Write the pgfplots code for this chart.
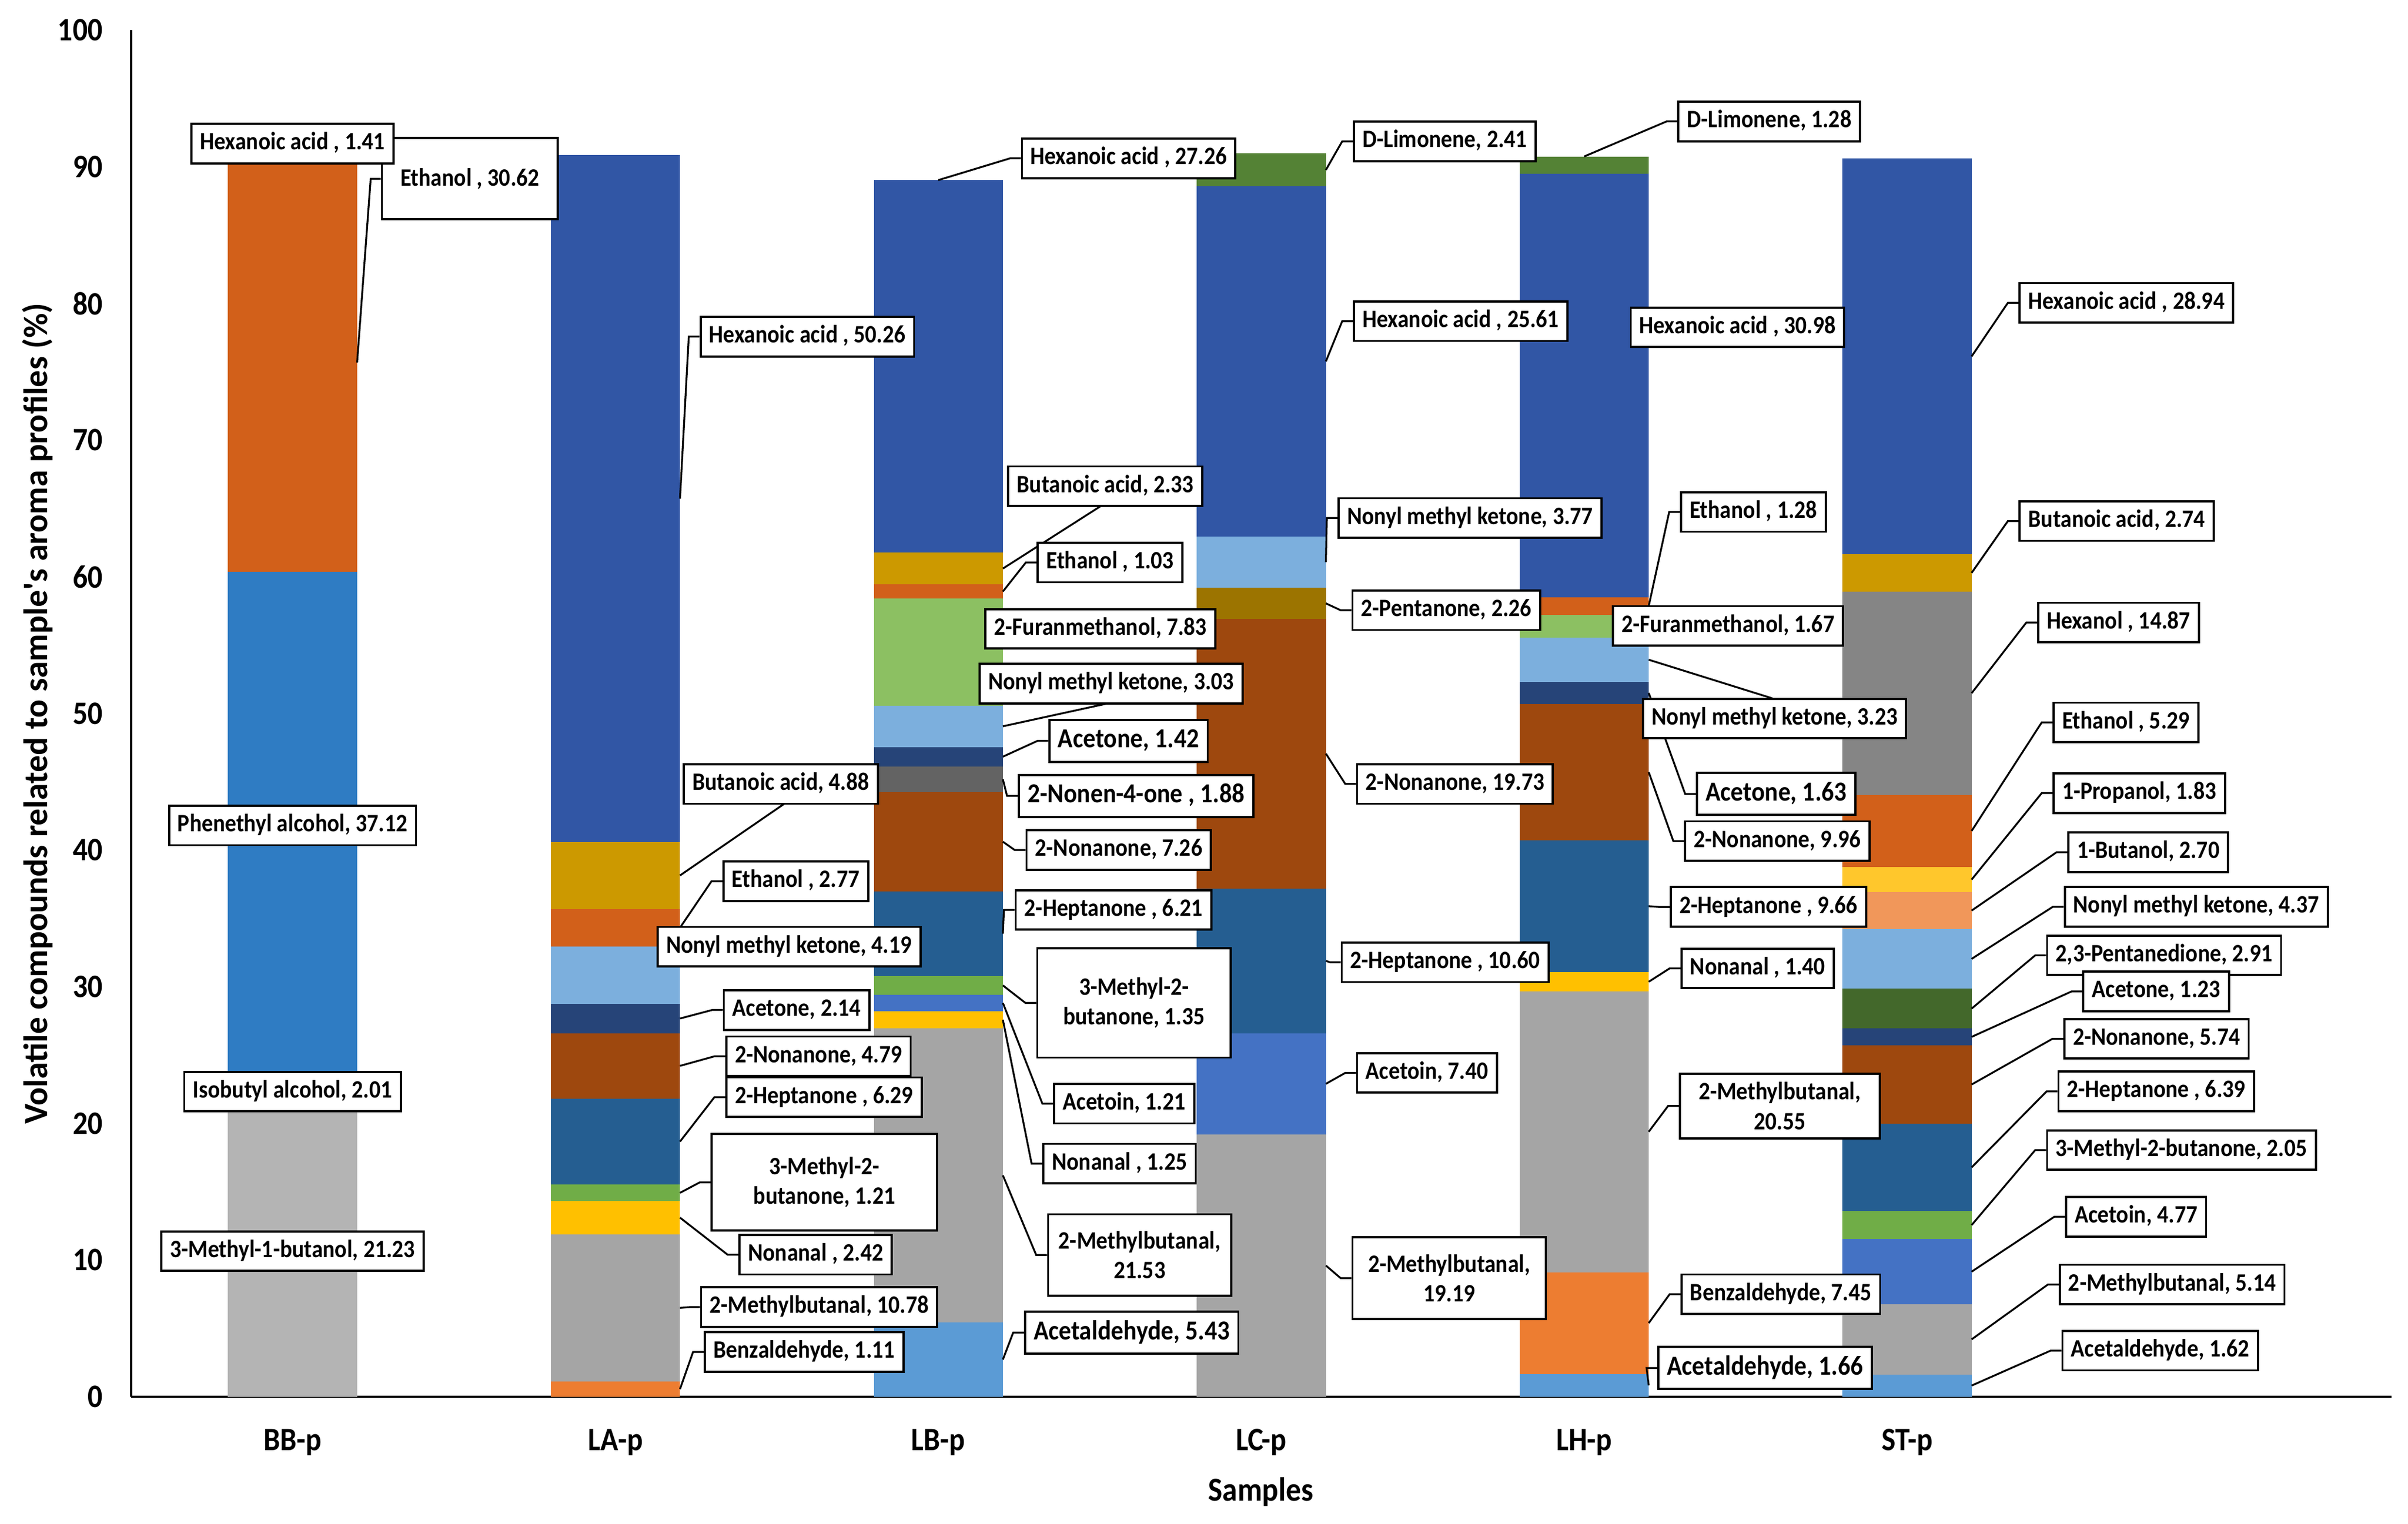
\documentclass[border=0pt]{standalone}
\usepackage{fontspec}
\setmainfont{Carlito}[FakeStretch=0.9]
\newfontfamily\ylfont{Carlito}
\usepackage{pgfplots}
\pgfplotsset{compat=1.18}
\definecolor{cGrayL}{HTML}{B4B4B4}
\definecolor{cIso}{HTML}{A9A9A9}
\definecolor{cPhen}{HTML}{2F7CC3}
\definecolor{cEth}{HTML}{D2601A}
\definecolor{cHex}{HTML}{3156A5}
\definecolor{cBenz}{HTML}{ED7D31}
\definecolor{cMB}{HTML}{A5A5A5}
\definecolor{cNonal}{HTML}{FFC000}
\definecolor{cMtb}{HTML}{70AD47}
\definecolor{cHep}{HTML}{255E91}
\definecolor{cNon}{HTML}{9E480E}
\definecolor{cAct}{HTML}{264478}
\definecolor{cNmk}{HTML}{7CAFDD}
\definecolor{cBut}{HTML}{CC9900}
\definecolor{cAld}{HTML}{5B9BD5}
\definecolor{cAcn}{HTML}{4472C4}
\definecolor{cNen}{HTML}{636363}
\definecolor{cFur}{HTML}{8CC062}
\definecolor{cPen}{HTML}{9C7400}
\definecolor{cLim}{HTML}{548235}
\definecolor{cHxl}{HTML}{858585}
\definecolor{cBol}{HTML}{F1975A}
\definecolor{cPol}{HTML}{FFC72C}
\definecolor{cPdn}{HTML}{43682B}
% one stacked segment per compound and sample
\newcommand\sA[2]{\addplot[fill=#1,draw=none] coordinates {(0,#2)(1,0)(2,0)(3,0)(4,0)(5,0)};}
\newcommand\sB[2]{\addplot[fill=#1,draw=none] coordinates {(0,0)(1,#2)(2,0)(3,0)(4,0)(5,0)};}
\newcommand\sC[2]{\addplot[fill=#1,draw=none] coordinates {(0,0)(1,0)(2,#2)(3,0)(4,0)(5,0)};}
\newcommand\sD[2]{\addplot[fill=#1,draw=none] coordinates {(0,0)(1,0)(2,0)(3,#2)(4,0)(5,0)};}
\newcommand\sE[2]{\addplot[fill=#1,draw=none] coordinates {(0,0)(1,0)(2,0)(3,0)(4,#2)(5,0)};}
\newcommand\sF[2]{\addplot[fill=#1,draw=none] coordinates {(0,0)(1,0)(2,0)(3,0)(4,0)(5,#2)};}
\tikzset{
 lblbase/.style={draw=black, line width=0.7pt, fill=white, anchor=west, inner xsep=2.8pt, inner ysep=2.8pt, align=center, font=\bfseries\fontsize{8.1}{9.6}\selectfont},
 lbl/.style={lblbase, text height=5.6pt, text depth=1.6pt},
 lbl2/.style={lblbase},
 big/.style={font=\bfseries\fontsize{8.9}{10.4}\selectfont, text height=6.2pt, text depth=1.8pt},
 lead/.style={draw=black, line width=0.6pt},
}
% callout: [style] bar-edge x, value at segment middle, box left x, box centre y, text
\newcommand\co[6][lbl]{\draw[lead] (#2,{908.63-8.8906*#3}) -- ({#4-7},#5) -- (#4,#5); \node[#1] at (#4,#5) {#6};}
\begin{document}
\begin{tikzpicture}
\begin{axis}[
  at={(0,0)}, anchor=south west,
  scale only axis, width=732.2pt, height=442.75pt,
  xmin=-0.5, xmax=6.5, ymin=0, ymax=100, enlargelimits=false,
  axis x line=bottom, axis y line=left,
  axis line style={-, line width=0.8pt, black},
  ybar stacked, bar width=0.4,
  xtick={0,1,2,3,4,5}, xticklabels={BB-p,LA-p,LB-p,LC-p,LH-p,ST-p},
  ytick={0,10,...,100},
  major tick length=0pt,
  /pgf/number format/assume math mode=true,
  tick label style={font=\bfseries\fontsize{10.6}{12}\selectfont},
  xticklabel style={anchor=base, yshift=-17.5pt, inner sep=0pt},
  yticklabel style={anchor=east, xshift=-9pt, inner sep=0pt},
  clip=false,
]
% BB-p
\sA{cGrayL}{21.23}
\sA{cIso}{2.01}
\sA{cPhen}{37.12}
\sA{cEth}{30.62}
\sA{cHex}{1.41}
% LA-p
\sB{cBenz}{1.11}
\sB{cMB}{10.78}
\sB{cNonal}{2.42}
\sB{cMtb}{1.21}
\sB{cHep}{6.29}
\sB{cNon}{4.79}
\sB{cAct}{2.14}
\sB{cNmk}{4.19}
\sB{cEth}{2.77}
\sB{cBut}{4.88}
\sB{cHex}{50.26}
% LB-p
\sC{cAld}{5.43}
\sC{cMB}{21.53}
\sC{cNonal}{1.25}
\sC{cAcn}{1.21}
\sC{cMtb}{1.35}
\sC{cHep}{6.21}
\sC{cNon}{7.26}
\sC{cNen}{1.88}
\sC{cAct}{1.42}
\sC{cNmk}{3.03}
\sC{cFur}{7.83}
\sC{cEth}{1.03}
\sC{cBut}{2.33}
\sC{cHex}{27.26}
% LC-p
\sD{cMB}{19.19}
\sD{cAcn}{7.40}
\sD{cHep}{10.60}
\sD{cNon}{19.73}
\sD{cPen}{2.26}
\sD{cNmk}{3.77}
\sD{cHex}{25.61}
\sD{cLim}{2.41}
% LH-p
\sE{cAld}{1.66}
\sE{cBenz}{7.45}
\sE{cMB}{20.55}
\sE{cNonal}{1.40}
\sE{cHep}{9.66}
\sE{cNon}{9.96}
\sE{cAct}{1.63}
\sE{cNmk}{3.23}
\sE{cFur}{1.67}
\sE{cEth}{1.28}
\sE{cHex}{30.98}
\sE{cLim}{1.28}
% ST-p
\sF{cAld}{1.62}
\sF{cMB}{5.14}
\sF{cAcn}{4.77}
\sF{cMtb}{2.05}
\sF{cHep}{6.39}
\sF{cNon}{5.74}
\sF{cAct}{1.23}
\sF{cPdn}{2.91}
\sF{cNmk}{4.37}
\sF{cBol}{2.70}
\sF{cPol}{1.83}
\sF{cEth}{5.29}
\sF{cHxl}{14.87}
\sF{cBut}{2.74}
\sF{cHex}{28.94}
\end{axis}
\begin{scope}[shift={(-42.45pt,452.5pt)}, x=0.498pt, y=-0.498pt]
% axis titles
\node[anchor=base, font=\bfseries\fontsize{10.9}{12}\selectfont] at (820.1,976.4) {Samples};
\node[rotate=90, anchor=base, font=\ylfont\bfseries\fontsize{11}{12}\selectfont] at (30.7,464.3) {Volatile compounds related to sample's aroma profiles (\%)};
% BB-p
\draw[lead] (232.27,{908.63-8.8906*75.67}) -- (241.1,116.4) -- (247.7,116.4);
\node[lbl2, minimum width=57pt, minimum height=26.3pt] at (247.7,116.3) {Ethanol , 30.62};
\node[lbl, anchor=center] at (190.3,93.5) {Hexanoic acid , 1.41};
\node[lbl, anchor=center] at (190.3,537) {Phenethyl alcohol, 37.12};
\node[lbl, anchor=center] at (190.3,710.2) {Isobutyl alcohol, 2.01};
\node[lbl, anchor=center] at (190.3,814) {3-Methyl-1-butanol, 21.23};
% LA-p
\co{442.3}{65.71}{455}{219}{Hexanoic acid , 50.26}
\draw[lead] (442.3,{908.63-8.8906*38.14}) -- (510,523);
\node[lbl] at (444,510) {Butanoic acid, 4.88};
\co{442.3}{34.315}{469.8}{573.3}{Ethanol , 2.77}
\node[lbl] at (427,615.9) {Nonyl methyl ketone, 4.19};
\co{442.3}{27.67}{470.1}{657.1}{Acetone, 2.14}
\co{442.3}{24.205}{471.7}{687.2}{2-Nonanone, 4.79}
\co{442.3}{18.665}{471.7}{713.8}{2-Heptanone , 6.29}
\co[lbl2, minimum width=73pt, minimum height=31.3pt]{442.3}{14.915}{462.2}{769.2}{3-Methyl-2-\\butanone, 1.21}
\co{442.3}{13.1}{480.3}{816.3}{Nonanal , 2.42}
\co{442.3}{6.5}{455.3}{850.4}{2-Methylbutanal, 10.78}
\co{442.3}{0.555}{457.8}{879.5}{Benzaldehyde, 1.11}
% LB-p
\draw[lead] (610.3,{908.63-8.8906*89.02}) -- (657,103) -- (664,103);
\node[lbl] at (664,103) {Hexanoic acid , 27.26};
\draw[lead] (652.3,{908.63-8.8906*60.595}) -- (716.5,328.9);
\node[lbl] at (655.1,316.3) {Butanoic acid, 2.33};
\co{652.3}{58.915}{674.2}{366}{Ethanol , 1.03}
\node[lbl] at (640.3,409.1) {2-Furanmethanol, 7.83};
\draw[lead] (652.3,{908.63-8.8906*49.055}) -- (720.6,457.6);
\node[lbl] at (636.5,444.8) {Nonyl methyl ketone, 3.03};
\co[lbl,big]{652.3}{46.83}{681.8}{482}{Acetone, 1.42}
\co[lbl,big]{652.3}{45.18}{662}{517.8}{2-Nonen-4-one , 1.88}
\co{652.3}{40.61}{667}{553}{2-Nonanone, 7.26}
\co{652.3}{33.875}{660}{592}{2-Heptanone , 6.21}
\co[lbl2, minimum width=62.7pt, minimum height=35.4pt]{652.3}{30.095}{674}{652.5}{3-Methyl-2-\\butanone, 1.35}
\co{652.3}{28.815}{685}{718}{Acetoin, 1.21}
\co{652.3}{27.585}{678}{757}{Nonanal , 1.25}
\co[lbl2, minimum width=59.3pt, minimum height=26.4pt]{652.3}{16.195}{681}{816.5}{2-Methylbutanal,\\21.53}
\co[lbl,big]{652.3}{2.715}{666}{867}{Acetaldehyde, 5.43}
% LC-p
\co{862.4}{89.765}{880}{92}{D-Limonene, 2.41}
\co{862.4}{75.755}{880}{209}{Hexanoic acid , 25.61}
\co{862.4}{61.065}{870}{337}{Nonyl methyl ketone, 3.77}
\co{862.4}{58.05}{879}{397}{2-Pentanone, 2.26}
\co{862.4}{47.055}{882}{510}{2-Nonanone, 19.73}
\co{862.4}{31.89}{872}{626}{2-Heptanone , 10.60}
\co{862.4}{22.89}{882}{698}{Acetoin, 7.40}
\co[lbl2, minimum width=62.7pt, minimum height=26.4pt]{862.4}{9.595}{879}{831.5}{2-Methylbutanal,\\19.19}
% LH-p
\draw[lead] (1030.4,{908.63-8.8906*90.75}) -- (1084,79) -- (1091,79);
\node[lbl] at (1091,79) {D-Limonene, 1.28};
\node[lbl] at (1060,213) {Hexanoic acid , 30.98};
\co{1072.4}{57.85}{1092.7}{333.1}{Ethanol , 1.28}
\node[lbl] at (1048.5,407.2) {2-Furanmethanol, 1.67};
\co[lbl,big]{1072.4}{51.495}{1103.1}{516.5}{Acetone, 1.63}
\draw[lead] (1072.4,{908.63-8.8906*53.925}) -- (1152.7,454.3);
\node[lbl] at (1068.1,467.5) {Nonyl methyl ketone, 3.23};
\co{1072.4}{45.7}{1095.4}{547.2}{2-Nonanone, 9.96}
\co{1072.4}{35.89}{1086}{590}{2-Heptanone , 9.66}
\co{1072.4}{30.36}{1093}{630}{Nonanal , 1.40}
\co[lbl2, minimum width=64.7pt]{1072.4}{19.385}{1092}{719.5}{2-Methylbutanal,\\20.55}
\co{1072.4}{5.385}{1093}{842}{Benzaldehyde, 7.45}
\co[lbl,big]{1072.4}{0.83}{1078}{890}{Acetaldehyde, 1.66}
% ST-p
\co{1282.4}{76.12}{1313}{197}{Hexanoic acid , 28.94}
\co{1282.4}{60.28}{1313}{339}{Butanoic acid, 2.74}
\co{1282.4}{51.475}{1325}{405}{Hexanol , 14.87}
\co{1282.4}{41.395}{1335}{470}{Ethanol , 5.29}
\co{1282.4}{37.835}{1335}{516}{1-Propanol, 1.83}
\co{1282.4}{35.57}{1344.6}{554.5}{1-Butanol, 2.70}
\co{1282.4}{32.035}{1342.3}{589.9}{Nonyl methyl ketone, 4.37}
\co{1282.4}{28.395}{1330.8}{621.5}{2,3-Pentanedione, 2.91}
\co{1282.4}{26.325}{1354.4}{645}{Acetone, 1.23}
\co{1282.4}{22.84}{1342}{675.8}{2-Nonanone, 5.74}
\co{1282.4}{16.775}{1338.2}{710}{2-Heptanone , 6.39}
\co{1282.4}{12.555}{1330.8}{748.2}{3-Methyl-2-butanone, 2.05}
\co{1282.4}{9.145}{1343.2}{791.6}{Acetoin, 4.77}
\co{1282.4}{4.19}{1339}{835.7}{2-Methylbutanal, 5.14}
\co{1282.4}{0.81}{1340.8}{878.7}{Acetaldehyde, 1.62}
\end{scope}
\pgfresetboundingbox
\path[use as bounding box] (-42.45pt,-41.25pt) rectangle (737.55pt,452.5pt);
\end{tikzpicture}
\end{document}
